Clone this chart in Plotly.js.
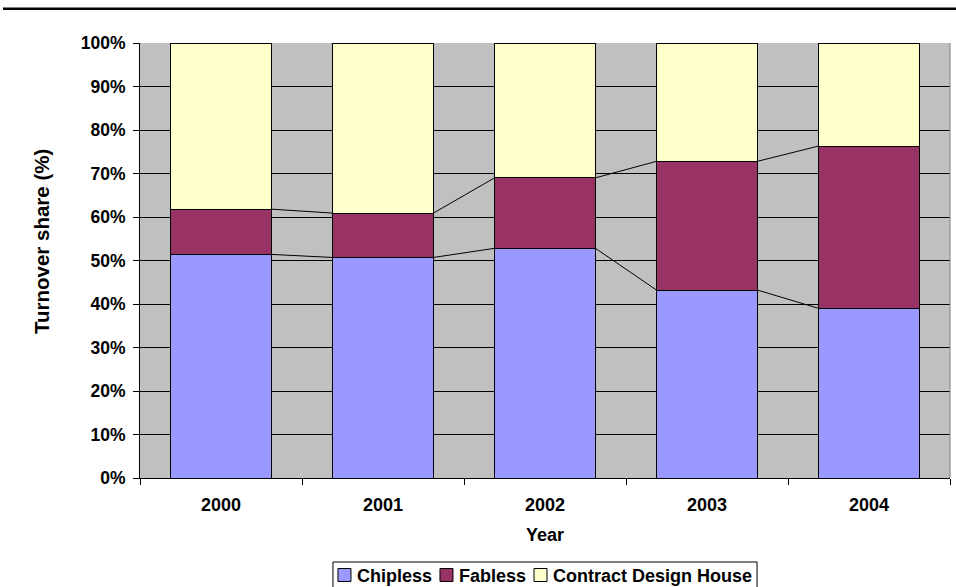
<!DOCTYPE html>
<html>
<head>
<meta charset="utf-8">
<script src="https://cdn.plot.ly/plotly-3.0.1.min.js"></script>
<style>html,body{margin:0;padding:0;background:#fff;}#chart{width:956px;height:587px;}</style>
</head>
<body>
<div id="chart"></div>
<script>
const years = ['2000', '2001', '2002', '2003', '2004'];
const chipless = [51.4, 50.7, 52.8, 43.2, 39.0];
const fabless = [10.4, 10.2, 16.2, 29.6, 37.3];
const contractDesignHouse = [38.2, 39.1, 31.0, 27.2, 23.7];
const seriesNames = ['Chipless', 'Fabless', 'Contract Design House'];
const yTickVals = [0, 10, 20, 30, 40, 50, 60, 70, 80, 90, 100];
const yTickText = ['0%', '10%', '20%', '30%', '40%', '50%', '60%', '70%', '80%', '90%', '100%'];
const xTitle = 'Year';
const yTitle = 'Turnover share (%)';

const colors = ['#9999FF', '#993366', '#FFFFCC'];
const bargap = 0.377;
const fontFam = 'Arial, "Liberation Sans", sans-serif';

// plot geometry (pixels)
const W = 956, H = 587;
const M = {l: 140, r: 6, t: 43, b: 109};
const PW = W - M.l - M.r, PH = H - M.t - M.b;
const px2x = px => (px - M.l) / PW;
const py2y = py => (H - M.b - py) / PH;

const series = [chipless, fabless, contractDesignHouse];
const traces = series.map((vals, i) => ({
  type: 'bar',
  name: seriesNames[i],
  x: years,
  y: vals,
  marker: {color: colors[i], line: {color: '#000', width: 1}},
  showlegend: false
}));

const shapes = [];
const annotations = [];

// Series lines (Excel style), from cumulative data
const half = (1 - bargap) / 2;
const cum1 = chipless.slice();
const cum2 = chipless.map((v, i) => v + fabless[i]);
[cum1, cum2].forEach(cum => {
  for (let i = 0; i < years.length - 1; i++) {
    shapes.push({type: 'line', xref: 'x', yref: 'y',
      x0: i + half, y0: cum[i], x1: i + 1 - half, y1: cum[i + 1],
      line: {color: '#000', width: 1}});
  }
});
// plot area right border
shapes.push({type: 'line', xref: 'paper', yref: 'paper', x0: 1, x1: 1, y0: 0, y1: 1,
  line: {color: '#808080', width: 1}});
// top rule line across page
shapes.push({type: 'line', xref: 'paper', yref: 'paper',
  x0: px2x(3), x1: px2x(960), y0: py2y(8.7), y1: py2y(8.7), line: {color: '#000', width: 2.5}});

// Y axis title as rotated annotation
annotations.push({xref: 'paper', yref: 'paper', x: px2x(42), y: py2y(242),
  text: '<b>' + yTitle + '</b>', textangle: -90, showarrow: false,
  xanchor: 'center', yanchor: 'middle',
  font: {family: fontFam, size: 20.5, color: '#000'}});

// Custom compact legend (Excel style)
const legFont = 18;
const cv = document.createElement('canvas').getContext('2d');
cv.font = 'bold ' + legFont + 'px "Liberation Sans", Arial';
const sym = 13, symGap = 4, itemGap = 10, padL = 5, padR = 7;
const widths = seriesNames.map(n => cv.measureText(n).width);
const total = padL + widths.reduce((a, w) => a + sym + symGap + w, 0) + itemGap * (seriesNames.length - 1) + padR;
const legCenter = M.l + PW / 2;
let lx = legCenter - total / 2;
const legTop = 562, legMid = 576;
shapes.push({type: 'rect', xref: 'paper', yref: 'paper',
  x0: px2x(lx), x1: px2x(lx + total), y0: py2y(legTop), y1: py2y(H + 10),
  fillcolor: '#fff', line: {color: '#000', width: 1}});
let cx = lx + padL;
seriesNames.forEach((n, i) => {
  shapes.push({type: 'rect', xref: 'paper', yref: 'paper',
    x0: px2x(cx), x1: px2x(cx + sym), y0: py2y(legMid - sym / 2 - 1), y1: py2y(legMid + sym / 2 - 1),
    fillcolor: colors[i], line: {color: '#000', width: 1}});
  annotations.push({xref: 'paper', yref: 'paper', x: px2x(cx + sym + symGap), y: py2y(legMid),
    text: '<b>' + n + '</b>', showarrow: false, xanchor: 'left', yanchor: 'middle',
    font: {family: fontFam, size: legFont, color: '#000'}});
  cx += sym + symGap + widths[i] + itemGap;
});

const layout = {
  width: W, height: H,
  margin: {l: M.l, r: M.r, t: M.t, b: M.b, autoexpand: false},
  paper_bgcolor: '#fff',
  plot_bgcolor: '#C0C0C0',
  barmode: 'stack',
  bargap: bargap,
  font: {family: fontFam, color: '#000'},
  showlegend: false,
  xaxis: {
    type: 'category',
    showgrid: false,
    showline: true, linecolor: '#000', linewidth: 1,
    ticks: 'outside', ticklen: 6, tickcolor: '#000',
    tickson: 'boundaries',
    tickfont: {family: fontFam, size: 18, color: '#000', weight: 'bold'},
    ticklabelstandoff: 10,
    title: {text: xTitle, font: {family: fontFam, size: 18, color: '#000', weight: 'bold'}, standoff: 14},
    automargin: false,
    fixedrange: true
  },
  yaxis: {
    range: [0, 100],
    tickvals: yTickVals, ticktext: yTickText,
    showgrid: true, gridcolor: '#000', gridwidth: 1,
    showline: true, linecolor: '#000', linewidth: 1,
    zeroline: false,
    ticks: 'outside', ticklen: 6, tickcolor: '#000',
    tickfont: {family: fontFam, size: 17.5, color: '#000', weight: 'bold'},
    ticklabelstandoff: 4,
    automargin: false,
    fixedrange: true
  },
  shapes: shapes,
  annotations: annotations
};

Plotly.newPlot('chart', traces, layout, {displayModeBar: false, staticPlot: true});
</script>
</body>
</html>
